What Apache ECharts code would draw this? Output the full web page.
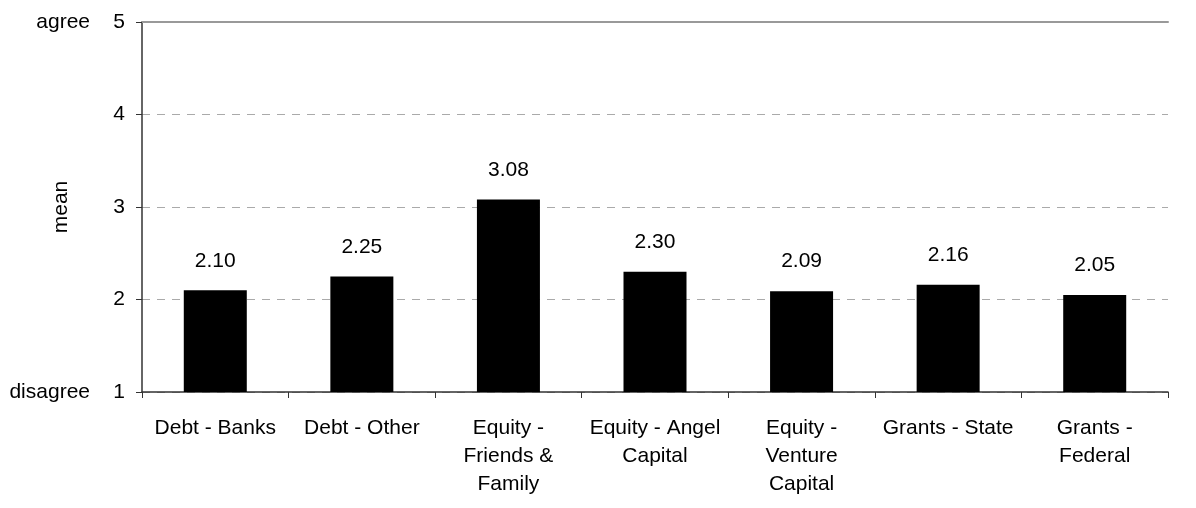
<!DOCTYPE html>
<html>
<head>
<meta charset="utf-8">
<script src="https://cdn.jsdelivr.net/npm/echarts@6/dist/echarts.min.js"></script>
<style>
    html, body { margin: 0; padding: 0; background: #fff; }
    #chart { width: 1196px; height: 508px; }
</style>
</head>
<body>
<div id="chart"></div>
<script>
// categories (line breaks as in the original labels)
var categories = [
    "Debt - Banks",
    "Debt - Other",
    "Equity -\nFriends &\nFamily",
    "Equity - Angel\nCapital",
    "Equity -\nVenture\nCapital",
    "Grants - State",
    "Grants -\nFederal"
];
var means = [2.10, 2.25, 3.08, 2.30, 2.09, 2.16, 2.05];
var scaleWords = { 1: "disagree", 5: "agree" };

var myChart = echarts.init(document.getElementById("chart"));
var font = "Liberation Sans, Arial, sans-serif";
var fs = 21;

myChart.setOption({
    animation: false,
    textStyle: { fontFamily: font, color: "#000" },
    grid: { left: 142, right: 28, top: 22, bottom: 116, containLabel: false, outerBoundsMode: "none" },
    xAxis: [
        {
            type: "category",
            data: categories,
            axisLine: { lineStyle: { color: "#333", width: 1.5 } },
            axisTick: { show: true, length: 6, lineStyle: { color: "#333" } },
            axisLabel: {
                interval: 0,
                margin: 22,
                fontSize: fs,
                lineHeight: 28,
                color: "#000",
                fontFamily: font
            }
        },
        {
            // top border line at 5
            type: "category",
            position: "top",
            data: categories,
            axisLine: { show: true, lineStyle: { color: "#999", width: 2 } },
            axisTick: { show: false },
            axisLabel: { show: false }
        }
    ],
    yAxis: {
        type: "value",
        min: 1,
        max: 5,
        interval: 1,
        name: "mean",
        nameLocation: "middle",
        nameGap: 70,
        nameRotate: 90,
        nameMoveOverlap: false,
        nameTextStyle: { fontSize: fs, color: "#000", fontFamily: font },
        axisLine: { show: true, lineStyle: { color: "#333", width: 1.5 } },
        axisTick: { show: true, length: 6, lineStyle: { color: "#333" } },
        splitLine: { lineStyle: { color: "#aaa", type: [8, 7], width: 1 } },
        axisLabel: {
            margin: 17,
            color: "#000",
            fontFamily: font,
            formatter: function (v) {
                var w = scaleWords[v] || "";
                return "{w|" + w + "}{n|" + v + "}";
            },
            rich: {
                w: { width: 82, align: "right", fontSize: fs, fontFamily: font, color: "#000" },
                n: { width: 35, align: "right", fontSize: fs, fontFamily: font, color: "#000" }
            }
        }
    },
    series: [
        {
            type: "bar",
            data: means,
            barWidth: 63,
            itemStyle: { color: "#000" },
            label: {
                show: true,
                position: "top",
                distance: 19,
                fontSize: fs,
                color: "#000",
                fontFamily: font,
                formatter: function (p) { return p.value.toFixed(2); }
            }
        }
    ]
});
</script>
</body>
</html>
